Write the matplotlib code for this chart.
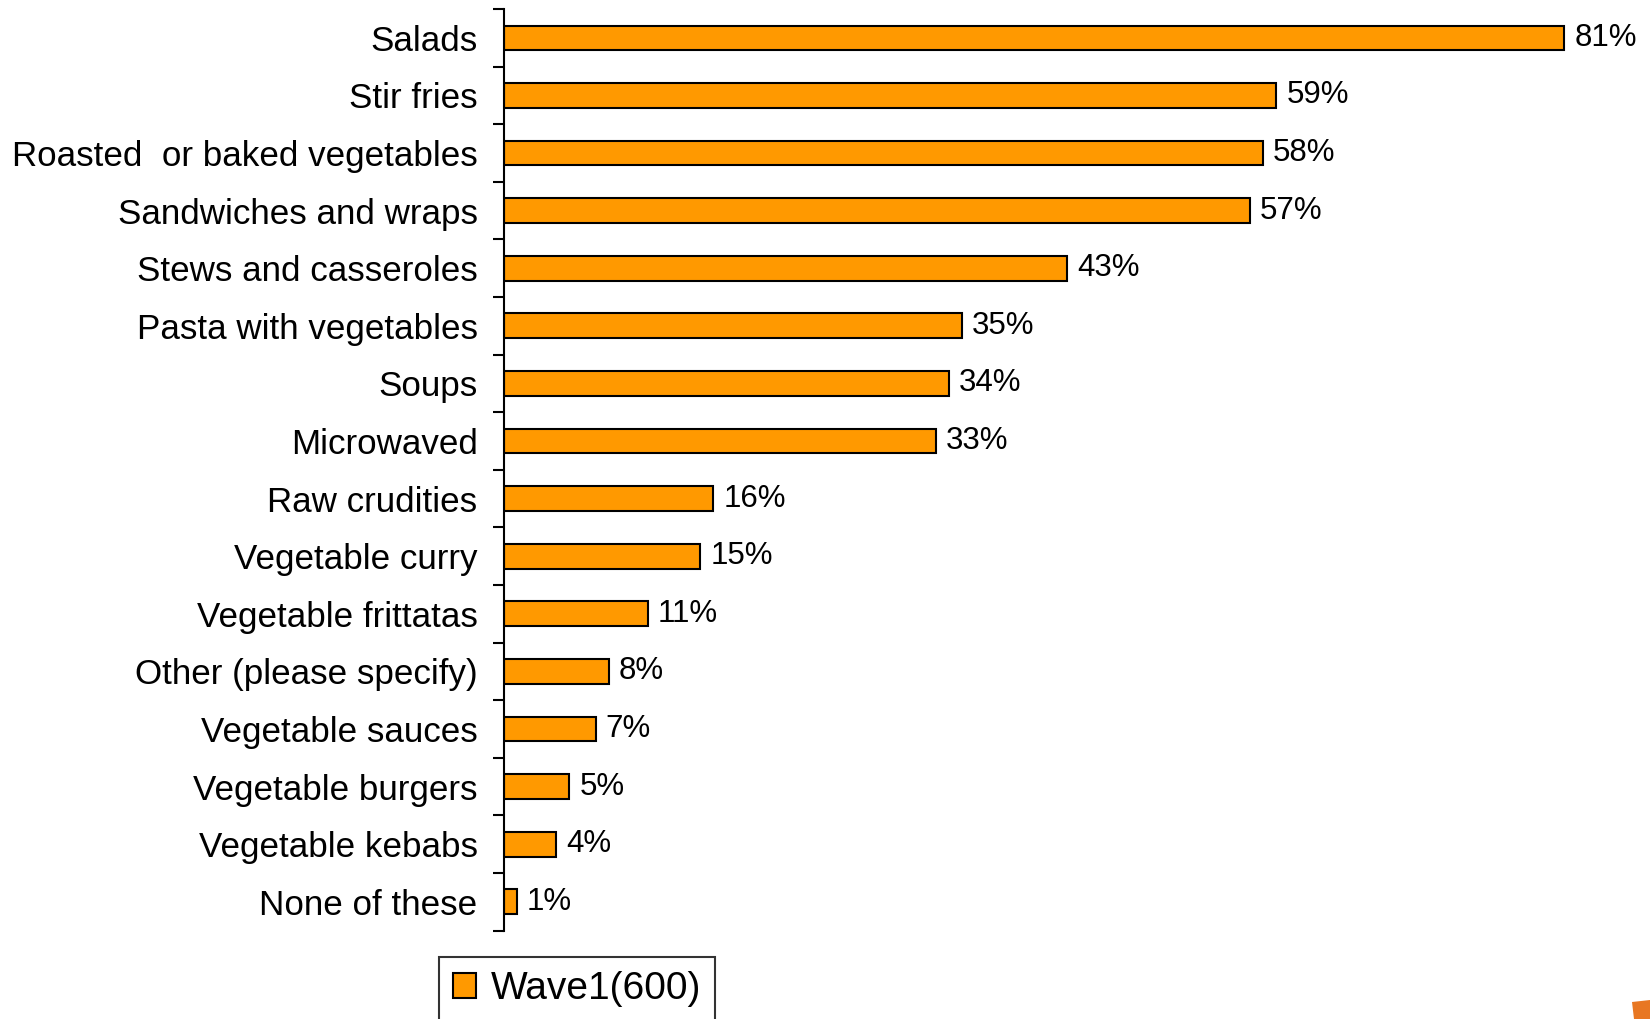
import matplotlib
matplotlib.use("Agg")
import matplotlib.pyplot as plt
from matplotlib.patches import Polygon

plt.rcParams['font.family'] = ['Liberation Sans', 'DejaVu Sans']

categories = [
    "Salads", "Stir fries", "Roasted  or baked vegetables", "Sandwiches and wraps",
    "Stews and casseroles", "Pasta with vegetables", "Soups", "Microwaved",
    "Raw crudities", "Vegetable curry", "Vegetable frittatas", "Other (please specify)",
    "Vegetable sauces", "Vegetable burgers", "Vegetable kebabs", "None of these",
]
values = [81, 59, 58, 57, 43, 35, 34, 33, 16, 15, 11, 8, 7, 5, 4, 1]
series_name = "Wave1(600)"

W, H = 1650, 1019
fig = plt.figure(figsize=(W / 100, H / 100), dpi=100)
ax = fig.add_axes([504 / W, 1 - 930.6 / H, 1139 / W, (930.6 - 9.1) / H])

pos = list(range(len(categories)))
bars = ax.barh(pos, values, height=0.43, color="#FF9900", edgecolor="black",
               linewidth=1.5, label=series_name)
ax.set_ylim(len(categories) - 0.5, -0.5)
ax.set_xlim(0, 87)

for p, v in zip(pos, values):
    ax.text(v + 0.75, p, f"{v}%", va="center", ha="left", fontsize=22.5)

ax.set_yticks(pos)
ax.set_yticklabels(categories, fontsize=25.2)
ax.tick_params(axis="y", which="major", length=0, pad=19)
ax.set_yticks([i - 0.5 for i in range(len(categories) + 1)], minor=True)
ax.tick_params(axis="y", which="minor", length=8, width=1.5, direction="out")
ax.set_xticks([])
for side in ("top", "right", "bottom"):
    ax.spines[side].set_visible(False)
ax.spines["left"].set_linewidth(1.5)

leg = fig.legend(handles=[bars], labels=[series_name], loc="upper left",
                 bbox_to_anchor=(439 / W, 1 - 957 / H), fontsize=28,
                 frameon=True, fancybox=False, edgecolor="black",
                 handlelength=0.6, handleheight=0.6, handletextpad=0.36,
                 borderpad=0.36, borderaxespad=0)
leg.get_frame().set_linewidth(1.5)

# corner logo fragment
fig.patches.append(Polygon([[1632 / W, 1 - 1002 / H], [1650 / W, 1 - 1000 / H],
                            [1650 / W, 0], [1634 / W, 0]],
                           closed=True, transform=fig.transFigure,
                           facecolor="#E87722", edgecolor="none"))

fig.savefig("out.png", dpi=100)
